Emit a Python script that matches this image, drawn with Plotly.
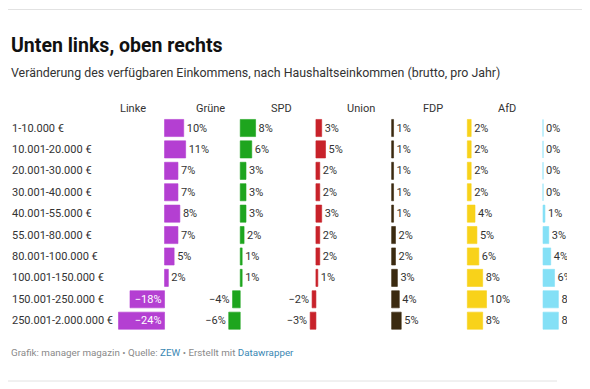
import plotly.graph_objects as go

# The page body has an 8px default margin, so the figure is laid out in
# page coordinates shifted by OFF.
OFF = 8
W, H = 582, 381

categories = ["1-10.000 €", "10.001-20.000 €", "20.001-30.000 €", "30.001-40.000 €",
              "40.001-55.000 €", "55.001-80.000 €", "80.001-100.000 €",
              "100.001-150.000 €", "150.001-250.000 €", "250.001-2.000.000 €"]
parties = ["Linke", "Grüne", "SPD", "Union", "FDP", "AfD"]
linke = [10, 11, 7, 7, 8, 7, 5, 2, -18, -24]
gruene = [8, 6, 3, 3, 3, 2, 1, 1, -4, -6]
spd = [3, 5, 2, 2, 3, 2, 2, 1, -2, -3]
union = [1, 1, 1, 1, 1, 2, 2, 3, 4, 5]
fdp = [2, 2, 2, 2, 4, 5, 6, 8, 10, 8]
afd = [0, 0, 0, 0, 1, 3, 4, 6, 8, 8]
series = [linke, gruene, spd, union, fdp, afd]
colors = ["#b43fd2", "#1ea51e", "#c8222a", "#3b2a10", "#f8d21a", "#84e0f6"]

FONT = "Roboto"
TXT = "#333333"


def px(x):
    return (x - OFF) / W


def py(y):
    return 1 - (y - OFF) / H


fig = go.Figure()

col_left0 = 117.9
col_step = 75.7
col_w = 75.8
xmin, xmax = -24.3, 15.2

row_top, row_bot = 117.3, 331.4

for i, (name, vals, col) in enumerate(zip(parties, series, colors)):
    ax = "x" if i == 0 else f"x{i+1}"
    labels = [f"{v}%".replace("-", "\u2212") for v in vals]
    pos = ["inside" if (v < 0 and i == 0) else "outside" for v in vals]
    fig.add_trace(go.Bar(
        y=categories, x=vals, orientation="h",
        marker=dict(color=col, line=dict(width=0.6, color=col)),
        width=0.8,
        text=labels, textposition=pos, insidetextanchor="start",
        insidetextfont=dict(color="white", size=11, family=FONT),
        outsidetextfont=dict(color=TXT, size=11, family=FONT),
        constraintext="none", cliponaxis=False,
        xaxis=ax, yaxis="y", showlegend=False, hoverinfo="skip",
    ))
    left = col_left0 + i * col_step
    fig.layout[("xaxis" if i == 0 else f"xaxis{i+1}")] = dict(
        domain=[px(left), px(left + col_w)], range=[xmin, xmax],
        visible=False, fixedrange=True, anchor="y",
    )
    fig.add_annotation(text=name, x=xmin, xref=ax, xanchor="left",
                       y=py(108), yref="paper", yanchor="middle", showarrow=False,
                       font=dict(family=FONT, size=11, color=TXT))

fig.update_layout(
    yaxis=dict(domain=[py(row_bot), py(row_top)], categoryorder="array",
               categoryarray=categories, autorange=False, range=[9.5, -0.5],
               visible=False, fixedrange=True),
)

for c in categories:
    fig.add_annotation(text=c, x=px(10), xref="paper", xanchor="left",
                       y=c, yref="y", yanchor="middle", showarrow=False,
                       font=dict(family=FONT, size=11, color=TXT))

# mask matching the cropped right edge of the original graphic
fig.add_shape(type="rect", xref="paper", yref="paper", x0=px(567), x1=1,
              y0=py(340), y1=py(100), fillcolor="white", line=dict(width=0),
              layer="above")

fig.add_shape(type="line", xref="paper", yref="paper", x0=px(8), x1=px(582),
              y0=py(9.5), y1=py(9.5), line=dict(color="#e2e2e2", width=1))
fig.add_shape(type="line", xref="paper", yref="paper", x0=px(8), x1=px(557),
              y0=py(381), y1=py(381), line=dict(color="#e2e2e2", width=1))

fig.add_annotation(text="<b>Unten links, oben rechts</b>", x=px(9), xref="paper",
                   xanchor="left", y=py(45), yref="paper", yanchor="middle",
                   showarrow=False, font=dict(family=FONT, size=19.5, color="#111111"))
fig.add_annotation(text="Veränderung des verfügbaren Einkommens, nach Haushaltseinkommen (brutto, pro Jahr)",
                   x=px(9), xref="paper", xanchor="left", y=py(72), yref="paper",
                   yanchor="middle", showarrow=False,
                   font=dict(family=FONT, size=12.4, color="#333333"))
fig.add_annotation(
    text="Grafik: manager magazin \u2022 Quelle: <span style='color:#3a87b3'>ZEW</span>"
         " \u2022 Erstellt mit <span style='color:#3a87b3'>Datawrapper</span>",
    x=px(9), xref="paper", xanchor="left", y=py(352), yref="paper", yanchor="middle",
    showarrow=False, font=dict(family=FONT, size=9.8, color="#8a8a8a"))

fig.update_layout(
    width=W, height=H, margin=dict(l=0, r=0, t=0, b=0),
    paper_bgcolor="white", plot_bgcolor="rgba(0,0,0,0)",
    barmode="relative", bargap=0.2,
    font=dict(family=FONT),
)

fig.write_html("out.html")
